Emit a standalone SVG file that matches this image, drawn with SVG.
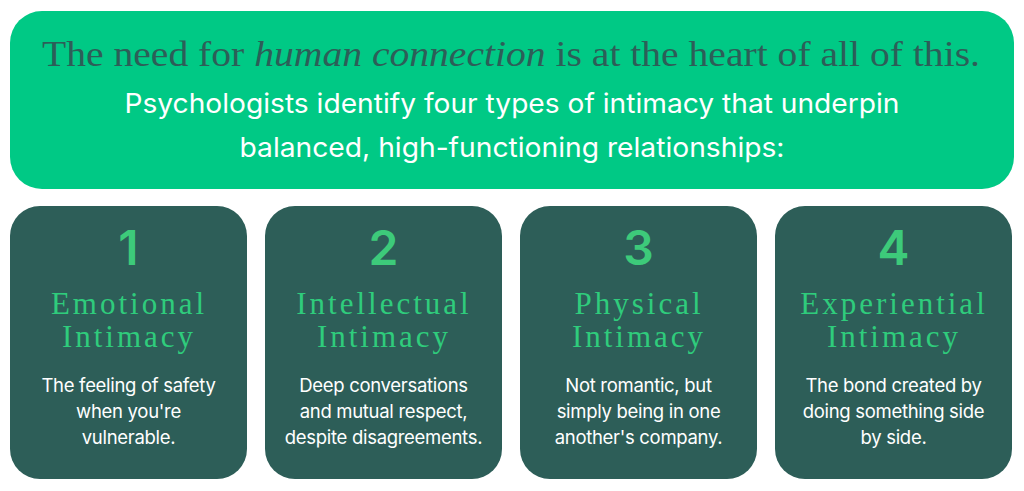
<svg xmlns="http://www.w3.org/2000/svg" width="1024" height="491" viewBox="0 0 1024 491">
<style>
.card{fill:#2d5e58}
.num{font-family:"Inter","DejaVu Sans",sans-serif;font-size:48px;font-weight:600;fill:#3dca7a;text-anchor:middle}
.ttl{font-family:"Liberation Serif",serif;font-size:31px;fill:#2fcc7c;text-anchor:middle;letter-spacing:3px}
.body{font-family:"Inter","Liberation Sans",sans-serif;font-size:18.5px;fill:#fff;text-anchor:middle;letter-spacing:-0.3px}
</style>
<rect width="1024" height="491" fill="#fff"/>
<g id="header">
<rect x="10" y="11" width="1004" height="178" rx="32" fill="#00c985"/>
<text x="511" y="66" text-anchor="middle" font-family="Liberation Serif,serif" font-size="36" fill="#2d5e58" textLength="938" lengthAdjust="spacingAndGlyphs">The need for <tspan font-style="italic">human connection</tspan> is at the heart of all of this.</text>
<text x="512" y="113" text-anchor="middle" font-family="Inter,Liberation Sans,sans-serif" font-size="27" fill="#fff" textLength="775" lengthAdjust="spacingAndGlyphs">Psychologists identify four types of intimacy that underpin</text>
<text x="512" y="157" text-anchor="middle" font-family="Inter,Liberation Sans,sans-serif" font-size="27" fill="#fff" textLength="545" lengthAdjust="spacingAndGlyphs">balanced, high-functioning relationships:</text>
</g>
<g id="card1">
<rect class="card" x="10" y="206" width="237" height="273" rx="30"/>
<text class="num" x="128.5" y="265">1</text>
<text class="ttl" x="129" y="314">Emotional</text>
<text class="ttl" x="129" y="347">Intimacy</text>
<text class="body" x="128.5" y="392">The feeling of safety</text>
<text class="body" x="128.5" y="418">when you're</text>
<text class="body" x="128.5" y="444">vulnerable.</text>
</g>
<g id="card2">
<rect class="card" x="265" y="206" width="237" height="273" rx="30"/>
<text class="num" x="383.5" y="265">2</text>
<text class="ttl" x="384" y="314">Intellectual</text>
<text class="ttl" x="384" y="347">Intimacy</text>
<text class="body" x="383.5" y="392">Deep conversations</text>
<text class="body" x="383.5" y="418">and mutual respect,</text>
<text class="body" x="383.5" y="444">despite disagreements.</text>
</g>
<g id="card3">
<rect class="card" x="520" y="206" width="237" height="273" rx="30"/>
<text class="num" x="638.5" y="265">3</text>
<text class="ttl" x="639" y="314">Physical</text>
<text class="ttl" x="639" y="347">Intimacy</text>
<text class="body" x="638.5" y="392">Not romantic, but</text>
<text class="body" x="638.5" y="418">simply being in one</text>
<text class="body" x="638.5" y="444">another's company.</text>
</g>
<g id="card4">
<rect class="card" x="775" y="206" width="237" height="273" rx="30"/>
<text class="num" x="893.5" y="265">4</text>
<text class="ttl" x="894" y="314">Experiential</text>
<text class="ttl" x="894" y="347">Intimacy</text>
<text class="body" x="893.5" y="392">The bond created by</text>
<text class="body" x="893.5" y="418">doing something side</text>
<text class="body" x="893.5" y="444">by side.</text>
</g>
<g id="connectors"/>
</svg>
